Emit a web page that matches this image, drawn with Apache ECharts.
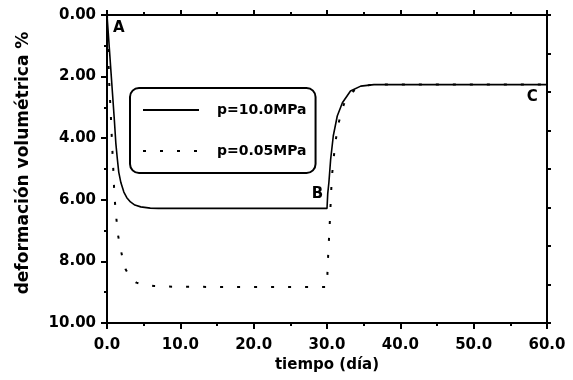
<!DOCTYPE html>
<html>
<head>
<meta charset="utf-8">
<script src="https://cdn.jsdelivr.net/npm/echarts@6/dist/echarts.min.js"></script>
<style>
html,body{margin:0;padding:0;background:#fff;}
#chart{width:573px;height:380px;}
</style>
</head>
<body>
<div id="chart"></div>
<script>
// ---- data ----
const seriesNames = ['p=10.0MPa', 'p=0.05MPa'];

const timeHigh = [0, 0.25, 0.5, 0.75, 1.0, 1.2, 1.4, 1.6, 1.9, 2.3, 2.7, 3.2, 3.8, 4.6, 5.9, 7.0, 10, 15, 20, 25, 30,
  30.1, 30.26, 30.5, 30.86, 31.4, 32.1, 33.2, 34.6, 36.4, 40, 45, 50, 55, 60];
const defHigh = [0, 0.85, 1.7, 2.55, 3.4, 4.15, 4.65, 5.1, 5.45, 5.75, 5.93, 6.07, 6.17, 6.23, 6.27, 6.28, 6.28, 6.28, 6.28, 6.28, 6.28,
  5.8, 5.43, 4.68, 3.92, 3.28, 2.85, 2.47, 2.31, 2.26, 2.26, 2.26, 2.26, 2.26, 2.26];

const timeLow = [0, 0.1, 0.2, 0.3, 0.4, 0.5, 0.6, 0.7, 0.8, 0.9, 1.0, 1.25, 1.47, 1.7, 1.94, 2.2, 2.52, 3.0, 3.5, 4.0, 5.0, 6.4, 8.9, 15, 20, 25, 30,
  30.1, 30.2, 30.35, 30.5, 30.65, 30.9, 31.2, 31.6, 32.3, 33.0, 33.7, 34.8, 35.9, 38, 45, 50, 55, 60];
const defLow = [0, 0.6, 1.5, 2.2, 2.7, 3.1, 3.7, 4.2, 4.76, 5.2, 5.85, 6.53, 7.1, 7.4, 7.69, 7.98, 8.25, 8.45, 8.6, 8.69, 8.76, 8.8, 8.82, 8.83, 8.83, 8.83, 8.83,
  8.1, 7.6, 6.9, 6.1, 5.3, 4.66, 4.05, 3.49, 2.9, 2.62, 2.45, 2.32, 2.27, 2.26, 2.26, 2.26, 2.26, 2.26];

const xTicks = [0, 10, 20, 30, 40, 50, 60];
const yTicks = [0, 2, 4, 6, 8, 10];

const pointLabels = ['A', 'B', 'C'];
const pointTimes = [1.6, 28.7, 58.0];
const pointValues = [0.42, 5.8, 2.68];

// ---- chart ----
const FONT = 'DejaVu Sans';
const pairs = (xs, ys) => xs.map((x, i) => [x, ys[i]]);

const chart = echarts.init(document.getElementById('chart'), null, {renderer: 'canvas'});

const axisLineStyle = {color: '#000', width: 2};

const option = {
  animation: false,
  backgroundColor: '#fff',
  grid: {left: 107, right: 26, top: 15, bottom: 57, containLabel: false},
  xAxis: [
    {
      type: 'value', position: 'bottom', min: xTicks[0], max: xTicks[xTicks.length - 1], interval: 10,
      name: 'tiempo (día)', nameLocation: 'middle', nameGap: 34,
      nameTextStyle: {fontFamily: FONT, fontWeight: 'bold', fontSize: 15, color: '#000'},
      axisLine: {onZero: false, lineStyle: axisLineStyle},
      axisTick: {inside: false, length: 6, lineStyle: {color: '#000', width: 2}},
      minorTick: {show: true, splitNumber: 2, length: 3, lineStyle: {color: '#000', width: 2}},
      splitLine: {show: false},
      axisLabel: {margin: 15, fontFamily: FONT, fontWeight: 'bold', fontSize: 15, color: '#000',
        formatter: v => v.toFixed(1)}
    },
    {
      type: 'value', position: 'top', min: xTicks[0], max: xTicks[xTicks.length - 1], interval: 10,
      axisLine: {onZero: false, lineStyle: axisLineStyle},
      axisTick: {inside: false, length: 5, lineStyle: {color: '#000', width: 2}},
      minorTick: {show: true, splitNumber: 2, length: 3, lineStyle: {color: '#000', width: 2}},
      splitLine: {show: false},
      axisLabel: {show: false}
    }
  ],
  yAxis: [
    {
      type: 'value', position: 'left', inverse: true, min: yTicks[0], max: yTicks[yTicks.length - 1], interval: 2,
      name: 'deformación volumétrica %', nameLocation: 'middle', nameGap: 75,
      nameTextStyle: {fontFamily: FONT, fontWeight: 'bold', fontSize: 17, color: '#000', padding: [0, 0, 0, 12]},
      axisLine: {onZero: false, lineStyle: axisLineStyle},
      axisTick: {inside: false, length: 6, lineStyle: {color: '#000', width: 2}},
      minorTick: {show: true, splitNumber: 2, length: 3, lineStyle: {color: '#000', width: 2}},
      splitLine: {show: false},
      axisLabel: {margin: 11, fontFamily: FONT, fontWeight: 'bold', fontSize: 15, color: '#000',
        formatter: v => v.toFixed(2)}
    },
    {
      type: 'value', position: 'right', inverse: true, min: yTicks[0], max: yTicks[yTicks.length - 1], interval: 1.25,
      axisLine: {onZero: false, lineStyle: axisLineStyle},
      axisTick: {inside: false, length: 4, lineStyle: {color: '#000', width: 2}},
      splitLine: {show: false},
      axisLabel: {show: false}
    }
  ],
  legend: {
    show: true,
    left: 130, top: 88,
    orient: 'vertical',
    data: seriesNames,
    itemWidth: 56, itemHeight: 14, itemGap: 27,
    padding: [15, 9, 15, 12],
    borderColor: '#000', borderWidth: 2, borderRadius: 9,
    backgroundColor: '#fff',
    itemStyle: {opacity: 0},
    textStyle: {fontFamily: FONT, fontWeight: 'bold', fontSize: 14, color: '#000', padding: [0, 0, 0, 13]}
  },
  series: [
    {
      name: seriesNames[0], type: 'line', xAxisIndex: 0, yAxisIndex: 0,
      data: pairs(timeHigh, defHigh), symbol: 'none', showSymbol: false, smooth: false,
      lineStyle: {color: '#000', width: 1.6, type: 'solid'}, itemStyle: {color: '#000'}, z: 3
    },
    {
      name: seriesNames[1], type: 'line', xAxisIndex: 0, yAxisIndex: 0,
      data: pairs(timeLow, defLow), symbol: 'none', showSymbol: false, smooth: false,
      lineStyle: {color: '#000', width: 2, type: [3, 14]}, itemStyle: {color: '#000'}, z: 3
    },
    {
      name: 'labels', type: 'scatter', xAxisIndex: 0, yAxisIndex: 0,
      data: pointLabels.map((l, i) => ({value: [pointTimes[i], pointValues[i]], name: l})),
      symbolSize: 0, silent: true,
      label: {show: true, position: 'inside', formatter: p => p.name,
        fontFamily: FONT, fontWeight: 'bold', fontSize: 15, color: '#000', opacity: 1}
    }
  ]
};
chart.setOption(option);
</script>
</body>
</html>
